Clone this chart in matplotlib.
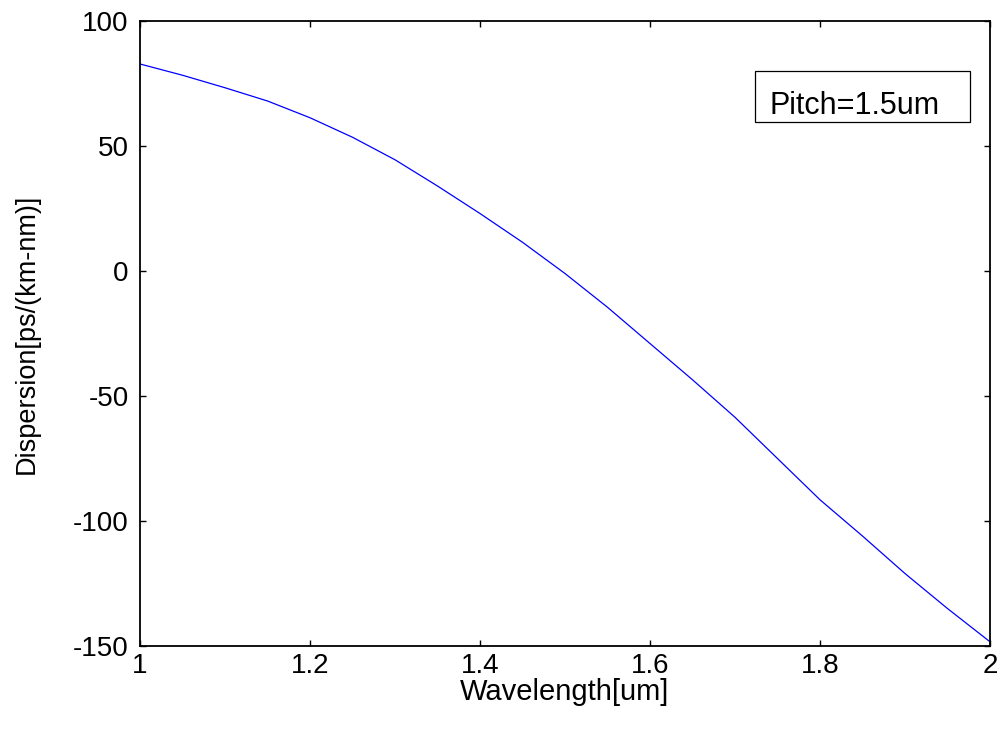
import numpy as np
import matplotlib.pyplot as plt
from matplotlib.patches import Rectangle

plt.rcParams['font.family'] = ['Liberation Sans', 'DejaVu Sans']
plt.rcParams['axes.unicode_minus'] = False

# data
wavelength = [1.00, 1.05, 1.10, 1.15, 1.20, 1.25, 1.30, 1.35, 1.40, 1.45, 1.50,
              1.55, 1.60, 1.65, 1.70, 1.75, 1.80, 1.85, 1.90, 1.95, 2.00]
dispersion = [82.8, 78.3, 73.3, 68.0, 61.3, 53.5, 44.5, 34.0, 23.0, 11.5, -1.0,
              -14.5, -29.0, -43.5, -58.5, -75.0, -91.5, -106.0, -121.0, -135.0, -148.3]
xticks = [1, 1.2, 1.4, 1.6, 1.8, 2]
xticklabels = ['1', '1.2', '1.4', '1.6', '1.8', '2']
yticks = [-150, -100, -50, 0, 50, 100]
legend_text = 'Pitch=1.5um'

fig = plt.figure(figsize=(10.04, 7.36), dpi=100)
ax = fig.add_axes([0.1394, 0.1223, 0.8466, 0.8492])

ax.plot(wavelength, dispersion, color='#0000FF', linewidth=0.9)

ax.set_xlim(1, 2)
ax.set_ylim(-150, 100)
ax.set_xticks(xticks)
ax.set_xticklabels(xticklabels)
ax.set_yticks(yticks)
ax.tick_params(direction='in', length=4.5, width=1.0, top=True, right=True,
               labelsize=20, colors='black')
ax.tick_params(axis='x', pad=5)
ax.tick_params(axis='y', pad=8)
for s in ax.spines.values():
    s.set_linewidth(1.3)

ax.set_xlabel('Wavelength[um]', fontsize=21, labelpad=-1)
ax.set_ylabel('Dispersion[ps/(km-nm)]', fontsize=19.5, labelpad=24)

# legend box (text only, no line sample)
ax.add_patch(Rectangle((0.7235, 0.8384), 0.253, 0.0816, transform=ax.transAxes,
                       facecolor='white', edgecolor='black', linewidth=0.9, zorder=5))
ax.text(0.741, 0.851, legend_text, transform=ax.transAxes, fontsize=22,
        va='baseline', ha='left', zorder=6)

fig.savefig('out.png', dpi=100)
